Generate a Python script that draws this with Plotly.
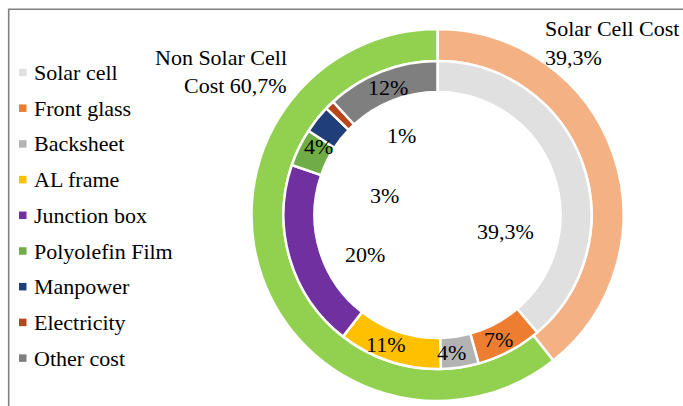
import plotly.graph_objects as go

W, H = 683, 406

# ---- data ----
outer_labels = ["Solar Cell Cost", "Non Solar Cell Cost"]
outer_values = [39.3, 60.7]
outer_text_lines = [["Solar Cell Cost", "39,3%"], ["Non Solar Cell", "Cost 60,7%"]]

categories = ["Solar cell", "Front glass", "Backsheet", "AL frame", "Junction box",
              "Polyolefin Film", "Manpower", "Electricity", "Other cost"]
values = [39.3, 7, 4, 11, 20, 4, 3, 1, 12]
value_labels = ["39,3%", "7%", "4%", "11%", "20%", "4%", "3%", "1%", "12%"]

# ---- style ----
outer_colors = ["#F4B183", "#92D050"]
colors = ["#E0E0E0", "#ED7D31", "#B3B3B3", "#FFC000", "#7030A0",
          "#70AD47", "#203F7A", "#B5461E", "#7F7F7F"]
FONT = "Liberation Serif"
FS = 22

cx, cy = 437.5, 215.0
R_out, R_mid, R_in = 186.0, 154.0, 123.0

# label anchor points (pixels) for the inner-ring value labels
label_pos = [(505, 231), (498, 339), (451, 352), (386, 344), (365, 254),
             (318, 146), (384, 195), (401, 135), (388, 87)]


def px(x):
    return x / W


def py(y):
    return 1 - y / H


def domain(r):
    return dict(x=[px(cx - r), px(cx + r)], y=[py(cy + r), py(cy - r)])


fig = go.Figure()
fig.add_trace(go.Pie(
    labels=outer_labels, values=outer_values, sort=False, direction="clockwise",
    rotation=0, hole=R_mid / R_out, domain=domain(R_out), textinfo="none",
    marker=dict(colors=outer_colors, line=dict(color="white", width=2.5)),
    showlegend=False, hoverinfo="label+value"))
fig.add_trace(go.Pie(
    labels=categories, values=values, sort=False, direction="clockwise",
    rotation=0, hole=R_in / R_mid, domain=domain(R_mid), textinfo="none",
    marker=dict(colors=colors, line=dict(color="white", width=2.5)),
    showlegend=False, hoverinfo="label+value"))

annotations = []
shapes = []

# value labels
for (x, y), t in zip(label_pos, value_labels):
    annotations.append(dict(x=px(x), y=py(y), xref="paper", yref="paper", text=t,
                            showarrow=False, xanchor="center", yanchor="middle",
                            font=dict(family=FONT, size=FS, color="black")))

# outer ring labels
for i, (x, y) in enumerate([(543, 29), (543, 57)]):
    annotations.append(dict(x=px(x), y=py(y), xref="paper", yref="paper",
                            text=outer_text_lines[0][i], showarrow=False,
                            xanchor="left", yanchor="middle",
                            font=dict(family=FONT, size=FS, color="black")))
for i, (x, y) in enumerate([(289, 57), (289, 86)]):
    annotations.append(dict(x=px(x), y=py(y), xref="paper", yref="paper",
                            text=outer_text_lines[1][i], showarrow=False,
                            xanchor="right", yanchor="middle",
                            font=dict(family=FONT, size=FS, color="black")))

# manual legend
y0, dy = 72.5, 35.7
for i, (c, name) in enumerate(zip(colors, categories)):
    yc = y0 + i * dy
    shapes.append(dict(type="rect", xref="paper", yref="paper",
                       x0=px(19), x1=px(26.5), y0=py(yc + 3.75), y1=py(yc - 3.75),
                       fillcolor=c, line=dict(width=0)))
    annotations.append(dict(x=px(32), y=py(yc), xref="paper", yref="paper", text=name,
                            showarrow=False, xanchor="left", yanchor="middle",
                            font=dict(family=FONT, size=FS, color="black")))

# frame border
shapes.append(dict(type="rect", xref="paper", yref="paper",
                   x0=px(8.7), y1=py(9.3), x1=1.1, y0=-0.1,
                   line=dict(color="#808080", width=1.6), fillcolor="rgba(0,0,0,0)"))

fig.update_layout(width=W, height=H, margin=dict(l=0, r=0, t=0, b=0),
                  paper_bgcolor="white", plot_bgcolor="white",
                  font=dict(family=FONT, size=FS),
                  annotations=annotations, shapes=shapes, showlegend=False)

fig.write_html("out.html", config={"displayModeBar": False},
               post_script="document.body.style.margin='0';document.body.style.overflow='hidden';")
